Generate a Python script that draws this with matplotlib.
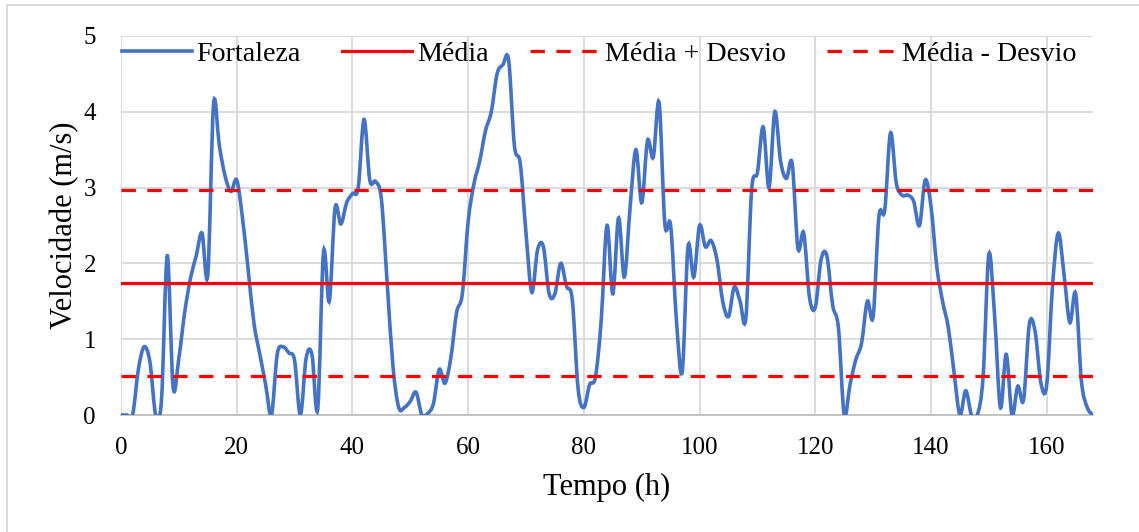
import numpy as np
import matplotlib
matplotlib.use("Agg")
import matplotlib.pyplot as plt
from matplotlib.path import Path
from matplotlib.patches import PathPatch
from matplotlib.lines import Line2D

plt.rcParams['font.family'] = ['Liberation Serif', 'DejaVu Serif']

# velocidade horaria do vento (m/s), 0..168 h
horas = list(range(169))
velocidade = [
    0, 0, 0, 0.6, 0.9, 0.7, 0, 0.2, 2.1, 0.37,
    0.75, 1.35, 1.8, 2.1, 2.4, 1.85, 4.1, 3.55, 3.15, 2.95,
    3.1, 2.6, 1.9, 1.2, 0.8, 0.4, 0, 0.8, 0.9, 0.82,
    0.72, 0, 0.75, 0.8, 0.08, 2.15, 1.5, 2.73, 2.52, 2.8,
    2.92, 3.0, 3.9, 3.1, 3.08, 2.85, 1.75, 0.65, 0.1, 0.1,
    0.18, 0.3, 0, 0.02, 0.15, 0.6, 0.42, 0.75, 1.35, 1.6,
    2.55, 3.05, 3.35, 3.75, 4.0, 4.5, 4.62, 4.68, 3.55, 3.32,
    2.4, 1.62, 2.18, 2.22, 1.6, 1.6, 2.0, 1.7, 1.52, 0.35,
    0.1, 0.4, 0.5, 1.25, 2.5, 1.6, 2.6, 1.82, 2.75, 3.5,
    2.8, 3.62, 3.4, 4.12, 2.52, 2.5, 1.25, 0.57, 2.22, 1.82,
    2.5, 2.22, 2.3, 2.05, 1.5, 1.3, 1.69, 1.5, 1.28, 2.97,
    3.2, 3.8, 3.0, 4.0, 3.35, 3.12, 3.32, 2.2, 2.4, 1.55,
    1.42, 2.05, 2.1, 1.45, 1.15, 0, 0.4, 0.73, 0.95, 1.5,
    1.3, 2.62, 2.7, 3.72, 3.06, 2.9, 2.9, 2.82, 2.5, 3.1,
    2.75, 1.96, 1.5, 1.15, 0.55, 0, 0.32, 0, 0, 0.5,
    2.12, 1.3, 0.1, 0.8, 0, 0.38, 0.2, 1.2, 1.1, 0.42,
    0.4, 1.7, 2.4, 1.85, 1.22, 1.6, 0.45, 0.1, 0,
]
media = 1.74
desvio = 1.23

azul = '#4472C4'
vermelho = '#FF0000'
cinza = '#D9D9D9'
tracejado = (4.5, 3.6)


def curva_suave(x, y):
    # linha suavizada tipo Excel: segmentos Bezier cubicos (Catmull-Rom)
    p = np.column_stack([x, y]).astype(float)
    ext = np.vstack([p[0], p, p[-1]])
    verts = [p[0]]
    codes = [Path.MOVETO]
    for i in range(len(p) - 1):
        p0, p1, p2, p3 = ext[i], ext[i + 1], ext[i + 2], ext[i + 3]
        verts += [p1 + (p2 - p0) / 6, p2 - (p3 - p1) / 6, p2]
        codes += [Path.CURVE4] * 3
    return Path(verts, codes)


fig = plt.figure(figsize=(11.39, 5.32), dpi=100)
ax = fig.add_axes([121 / 1139, 1 - 415 / 532, (1093 - 121) / 1139, (415 - 36) / 532])

ax.add_patch(PathPatch(curva_suave(horas, velocidade), facecolor='none',
                       edgecolor=azul, lw=2.6, zorder=3, capstyle='round'))
ax.axhline(media, color=vermelho, lw=2.3, zorder=4)
ax.axhline(media + desvio, color=vermelho, lw=2.3, dashes=tracejado, zorder=4)
ax.axhline(media - desvio, color=vermelho, lw=2.3, dashes=tracejado, zorder=4)

ax.set_xlim(0, 168)
ax.set_ylim(0, 5)
ax.set_xticks(range(0, 161, 20))
ax.set_yticks(range(0, 6))
ax.grid(True, color=cinza, lw=1.3, zorder=0)
ax.set_axisbelow(True)
for s in ['top', 'right', 'left']:
    ax.spines[s].set_visible(False)
ax.spines['bottom'].set_color('#BFBFBF')
ax.spines['bottom'].set_linewidth(1.3)
ax.tick_params(length=0, labelsize=18, colors='#000000')
ax.tick_params(axis='y', pad=18)
ax.tick_params(axis='x', pad=16)
ax.set_xlabel('Tempo (h)', fontsize=22, labelpad=10)
ax.set_ylabel('Velocidade (m/s)', fontsize=22, labelpad=3)

handles = [
    Line2D([], [], color=azul, lw=2.6),
    Line2D([], [], color=vermelho, lw=2.3),
    Line2D([], [], color=vermelho, lw=2.3, dashes=tracejado),
    Line2D([], [], color=vermelho, lw=2.3, dashes=tracejado),
]
labels = ['Fortaleza', 'Média', 'Média + Desvio', 'Média - Desvio']
ax.legend(handles, labels, loc='center left', bbox_to_anchor=(0.001, 0.953), ncol=4,
          frameon=False, fontsize=20.2, handlelength=2.48, handletextpad=0.18,
          columnspacing=1.48, borderpad=0.0, borderaxespad=0.0)

# moldura da area do grafico
fig.add_artist(Line2D([7 / 1139, 7 / 1139], [0, 1 - 5 / 532], color=cinza, lw=1.3,
                      transform=fig.transFigure))
fig.add_artist(Line2D([7 / 1139, 1], [1 - 5 / 532, 1 - 5 / 532], color=cinza, lw=1.3,
                      transform=fig.transFigure))

fig.savefig('out.png', dpi=100)
